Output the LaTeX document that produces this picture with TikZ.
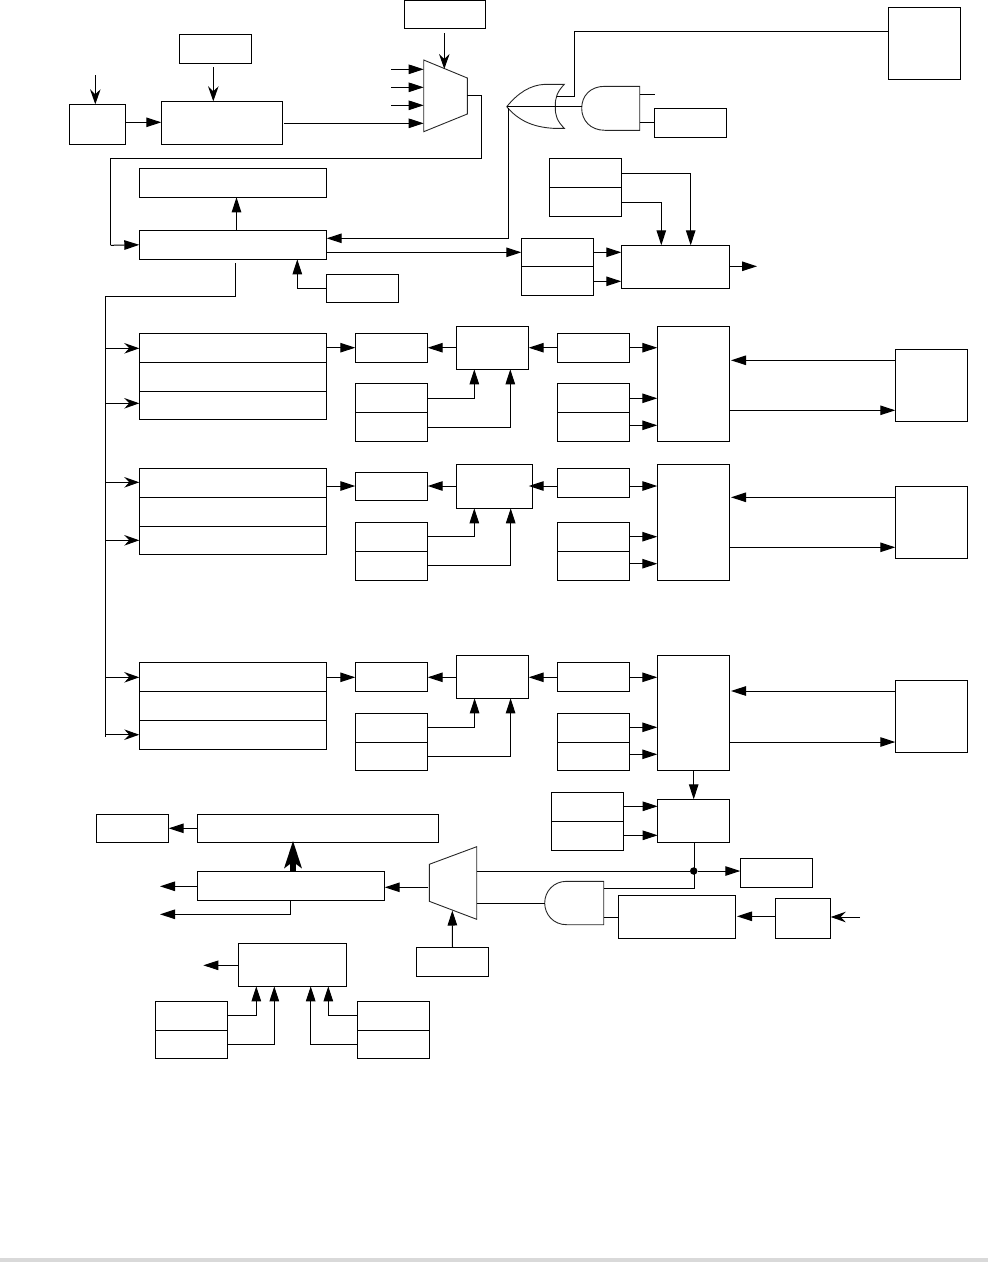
\documentclass[tikz,border=0pt]{standalone}
\usetikzlibrary{arrows.meta}
\tikzset{
  box/.style={draw=black,line width=1pt,inner sep=0pt,outer sep=0pt,anchor=north west},
  wire/.style={draw=black,line width=1pt},
  tri/.style={wire,-{Triangle[length=15pt,width=9.5pt]}},
  barb/.style={wire,-{Stealth[length=15pt,width=10.5pt,inset=5pt]}},
  fat/.style={draw=black,line width=6pt,-{Stealth[length=27pt,width=17pt,inset=6pt]}},
  gate/.style={draw=black!85,line width=0.9pt},
  junction/.style={circle,fill=black,inner sep=0pt,minimum size=7.5pt}
}
\newcommand{\bx}[5]{%
  \pgfmathsetmacro\bxw{#4-(#2)}\pgfmathsetmacro\bxh{#5-(#3)}%
  \node[box,minimum width=\bxw pt,minimum height=\bxh pt] (#1) at (#2,#3) {};}
\begin{document}
\begin{tikzpicture}[x=1pt,y=-1pt]
\useasboundingbox (0,0) rectangle (988,1262);
\fill[fill=black!15] (0,1258) rectangle (988,1262);

% ---------- top section
\bx{a}{69.3}{104.3}{125.7}{144.3}
\bx{b}{161.3}{101.3}{282.7}{144.3}
\bx{c}{179.3}{34.3}{251.7}{63.5}
\bx{top}{404.3}{0.5}{485.7}{28.3}
\bx{farbox}{888}{7}{960}{79}
\bx{d}{139.3}{168.3}{326.7}{197.3}
\bx{e}{139.3}{230.3}{326.7}{259.3}
\bx{esm}{326.3}{274.3}{398.7}{302.3}
\bx{andbox}{654.3}{108.3}{726.7}{137.3}
\bx{dt1}{549.3}{158.3}{621.3}{187.3}
\bx{dt2}{549.3}{187.3}{621.3}{216.3}
\bx{dm1}{521.3}{238.3}{593.3}{266.3}
\bx{dm2}{521.3}{266.3}{593.3}{295.3}
\bx{f}{621.3}{245.3}{729.3}{288.3}

% mux 1
\draw[gate] (423.7,60) -- (467.3,78) -- (467.3,114) -- (423.7,131.7) -- cycle;
\coordinate (mi1) at (423.7,69.3);
\coordinate (mi2) at (423.7,87.3);
\coordinate (mi3) at (423.7,105.3);
\coordinate (mi4) at (423.7,123.3);
\coordinate (mtop) at (444.3,69);
\coordinate (mout) at (467.3,95.3);
\coordinate (ms1) at (391,69.3);
\coordinate (ms2) at (391,87.3);
\coordinate (ms3) at (391,105.3);
\coordinate (mc1) at (481.3,158.3);
\coordinate (mc2) at (110.7,158.3);
\coordinate (fa) at (95.3,75);
\coordinate (fbend) at (481.3,95.3);

% OR gate
\draw[gate] (506.7,106.7) .. controls (518,93) and (530,85) .. (545,84.3) -- (564.3,84.3)
  .. controls (557,92) and (555,98) .. (555.3,106.7)
  .. controls (555,115) and (557,121) .. (564.3,128.3) -- (553,128.3)
  .. controls (532,127) and (518,120) .. (506.7,106.7);
% AND gate 1
\draw[gate] (605,86.3) -- (639.7,86.3) -- (639.7,130.3) -- (605,130.3)
  .. controls (590,130.3) and (581.7,120) .. (581.7,108.3)
  .. controls (581.7,96) and (590,86.3) .. (605,86.3);
\coordinate (ortip) at (506.7,106.7);
\coordinate (andin) at (581.7,106.7);
\coordinate (orin) at (556.7,96.3);
\coordinate (orup) at (574.3,96.3);
\coordinate (andoa) at (639.7,94.3);
\coordinate (andob) at (655,94.3);
\coordinate (andoc) at (639.7,122.3);
\coordinate (orw) at (508.3,108);

\draw[barb] (fa) -- (95.3,0 |- a.north);
\draw[tri] (a.east |- 0,122.3) -- (b.west |- 0,122.3);
\draw[barb] (213.3,67) -- (213.3,0 |- b.north);
\draw[barb] (444.3,33) -- (mtop);
\draw[tri] (284,123.3) -- (mi4);
\draw[tri] (ms1) -- (mi1);
\draw[tri] (ms2) -- (mi2);
\draw[tri] (ms3) -- (mi3);
\draw[wire] (mout) -- (fbend) -- (mc1) -- (mc2) -- (110.7,245.3);
\draw[tri] (110.7,245.3) -- (e.west);
\draw[tri] (236.5,0 |- e.north) -- (236.5,0 |- d.south);
\draw[wire] (ortip) -- (andin);
\draw[wire] (orin) -- (orup) -- (574.3,31.3) -- (farbox.west |- 0,31.3);
\draw[wire] (andoa) -- (andob);
\draw[wire] (andoc) -- (andbox.west |- andoc);
\draw[tri] (orw) |- (e.east |- 0,238.3);
\draw[tri] (e.east |- 0,252.3) -- (dm1.west |- 0,252.3);
\draw[tri] (esm.west |- 0,288.3) -| (297.3,0 |- e.south);
\draw[tri] (dt1.east |- 0,173.3) -| (690.7,0 |- f.north);
\draw[tri] (dt2.east |- 0,202.3) -| (661.3,0 |- f.north);
\draw[tri] (dm1.east |- 0,252.3) -- (f.west |- 0,252.3);
\draw[tri] (dm2.east |- 0,281.3) -- (f.west |- 0,281.3);
\coordinate (fout) at (757,266.3);
\draw[tri] (f.east |- fout) -- (fout);

% bus
\coordinate (bus0) at (235.3,263);
\coordinate (bus1) at (235.3,296.3);
\coordinate (bus2) at (105.3,296.3);
\coordinate (bus3) at (105.3,737);
\draw[wire] (bus0) -- (bus1) -- (bus2) -- (bus3);

% ---------- channel 1
\bx{ta1}{139.3}{333.3}{326.7}{362.3}
\bx{tb1}{139.3}{362.3}{326.7}{391.3}
\bx{tc1}{139.3}{391.3}{326.7}{419.3}
\bx{g1}{355.3}{333.3}{427.7}{362.3}
\bx{la1}{355.3}{383.3}{427.7}{412.3}
\bx{lb1}{355.3}{412.3}{427.7}{441.3}
\bx{h1}{456.3}{326.3}{528.7}{369.3}
\bx{i1}{557.3}{333.3}{629.7}{362.3}
\bx{ra1}{557.3}{383.3}{629.7}{412.3}
\bx{rb1}{557.3}{412.3}{629.7}{441.3}
\bx{j1}{657.3}{326.3}{729.7}{441.3}
\bx{k1}{895.3}{349.3}{967.7}{421.3}
\draw[barb] (bus2 |- 0,348.3) -- (ta1.west |- 0,348.3);
\draw[barb] (bus2 |- 0,403.3) -- (tc1.west |- 0,403.3);
\draw[tri] (ta1.east |- 0,347.7) -- (g1.west |- 0,347.7);
\draw[tri] (h1.west |- 0,347.7) -- (g1.east |- 0,347.7);
\draw[tri] (i1.west |- 0,347.7) -- (h1.east |- 0,347.7);
\draw[tri] (la1.east |- 0,398.3) -| (474.3,0 |- h1.south);
\draw[tri] (lb1.east |- 0,427.3) -| (510.3,0 |- h1.south);
\draw[tri] (i1.east |- 0,347.7) -- (j1.west |- 0,347.7);
\draw[tri] (ra1.east |- 0,398.3) -- (j1.west |- 0,398.3);
\draw[tri] (rb1.east |- 0,425.3) -- (j1.west |- 0,425.3);
\draw[tri] (k1.west |- 0,360.3) -- (731,360.3);
\draw[tri] (j1.east |- 0,410.3) -- (k1.west |- 0,410.3);

% ---------- channel 2
\bx{ta2}{139.3}{468.3}{326.7}{497.3}
\bx{tb2}{139.3}{497.3}{326.7}{526.3}
\bx{tc2}{139.3}{526.3}{326.7}{554.3}
\bx{g2}{355.3}{472.3}{427.7}{500.3}
\bx{la2}{355.3}{522.3}{427.7}{551.3}
\bx{lb2}{355.3}{551.3}{427.7}{580.3}
\bx{h2}{456.3}{464.3}{532.7}{508.3}
\bx{i2}{557.3}{468.3}{629.7}{497.3}
\bx{ra2}{557.3}{522.3}{629.7}{551.3}
\bx{rb2}{557.3}{551.3}{629.7}{580.3}
\bx{j2}{657.3}{464.3}{729.7}{580.3}
\bx{k2}{895.3}{486.3}{967.7}{558.3}
\draw[barb] (bus2 |- 0,482.3) -- (ta2.west |- 0,482.3);
\draw[barb] (bus2 |- 0,540.3) -- (tc2.west |- 0,540.3);
\draw[tri] (ta2.east |- 0,486) -- (g2.west |- 0,486);
\draw[tri] (h2.west |- 0,486) -- (g2.east |- 0,486);
\draw[tri] (i2.west |- 0,486) -- (528.7,486);
\draw[tri] (la2.east |- 0,536.3) -| (474.3,0 |- h2.south);
\draw[tri] (lb2.east |- 0,565.3) -| (510.7,0 |- h2.south);
\draw[tri] (i2.east |- 0,486) -- (j2.west |- 0,486);
\draw[tri] (ra2.east |- 0,536.7) -- (j2.west |- 0,536.7);
\draw[tri] (rb2.east |- 0,563.7) -- (j2.west |- 0,563.7);
\draw[tri] (k2.west |- 0,497.3) -- (731,497.3);
\draw[tri] (j2.east |- 0,547.3) -- (k2.west |- 0,547.3);

% ---------- channel 3
\bx{ta3}{139.3}{662.3}{326.7}{691.3}
\bx{tb3}{139.3}{691.3}{326.7}{720.3}
\bx{tc3}{139.3}{720.3}{326.7}{749.3}
\bx{g3}{355.3}{662.3}{427.7}{691.3}
\bx{la3}{355.3}{713.3}{427.7}{742.3}
\bx{lb3}{355.3}{742.3}{427.7}{770.7}
\bx{h3}{456.3}{655.3}{528.7}{698.3}
\bx{i3}{557.3}{662.3}{629.7}{691.3}
\bx{ra3}{557.3}{713.3}{629.7}{742.3}
\bx{rb3}{557.3}{742.3}{629.7}{770.7}
\bx{j3}{657.3}{655.3}{729.7}{770.7}
\bx{k3}{895.3}{680.3}{967.7}{752.3}
\draw[barb] (bus2 |- 0,677.3) -- (ta3.west |- 0,677.3);
\draw[barb] (bus2 |- 0,734.7) -- (tc3.west |- 0,734.7);
\draw[tri] (ta3.east |- 0,677.3) -- (g3.west |- 0,677.3);
\draw[tri] (h3.west |- 0,677.3) -- (g3.east |- 0,677.3);
\draw[tri] (i3.west |- 0,677.3) -- (h3.east |- 0,677.3);
\draw[tri] (la3.east |- 0,727.3) -| (474.6,0 |- h3.south);
\draw[tri] (lb3.east |- 0,756.3) -| (510.6,0 |- h3.south);
\draw[tri] (i3.east |- 0,677.3) -- (j3.west |- 0,677.3);
\draw[tri] (ra3.east |- 0,727.3) -- (j3.west |- 0,727.3);
\draw[tri] (rb3.east |- 0,754.3) -- (j3.west |- 0,754.3);
\draw[tri] (k3.west |- 0,691) -- (731,691);
\draw[tri] (j3.east |- 0,742) -- (k3.west |- 0,742);

% ---------- bottom section
\bx{l}{657.7}{799.3}{729.7}{842.3}
\bx{ba}{551.3}{792.3}{623.7}{821.3}
\bx{bb}{551.3}{821.3}{623.7}{850.3}
\bx{sta}{740.3}{858.3}{812.7}{887.3}
\bx{nb}{618.3}{895.3}{735.7}{938.3}
\bx{xt}{775.3}{898.3}{830.7}{938.3}
\bx{msel}{416.3}{947.3}{488.7}{976.3}
\bx{bl}{96.3}{814.3}{168.7}{842.3}
\bx{wide}{197.3}{814.3}{438.7}{842.3}
\bx{mid}{197.3}{871.3}{384.7}{900.3}
\bx{cc}{238.3}{943.3}{346.7}{986.3}
\bx{pa}{155.3}{1001.3}{227.7}{1030.3}
\bx{pb}{155.3}{1030.3}{227.7}{1058.3}
\bx{qa}{357.3}{1001.3}{429.7}{1030.3}
\bx{qb}{357.3}{1030.3}{429.7}{1058.3}

% mux 2
\draw[gate] (429.3,864.3) -- (476.7,846.7) -- (476.7,919.3) -- (429.3,901.3) -- cycle;
\coordinate (m2a) at (476.7,871);
\coordinate (m2b) at (476.7,903.3);
\coordinate (m2in) at (428.3,887.3);
\coordinate (m2s) at (452.3,910.5);
% AND gate 2
\draw[gate] (566.7,881.3) -- (603.7,881.3) -- (603.7,924.7) -- (566.7,924.7)
  .. controls (553,924.7) and (544.7,914) .. (544.7,903)
  .. controls (544.7,892) and (553,881.3) .. (566.7,881.3);
\coordinate (a2in) at (544.7,903.3);
\coordinate (a2t) at (603.7,888.3);
\coordinate (a2b) at (603.7,917);
\node[junction] (dot) at (693.7,871) {};
\coordinate (xin) at (860,917);
\coordinate (wa) at (160,886.3);
\coordinate (wb) at (160,914.3);
\coordinate (wc) at (203.3,965.3);

\draw[tri] (693.7,0 |- j3.south) -- (693.7,0 |- l.north);
\draw[tri] (ba.east |- 0,806.3) -- (l.west |- 0,806.3);
\draw[tri] (bb.east |- 0,835.3) -- (l.west |- 0,835.3);
\draw[wire] (694.7,0 |- l.south) -- (694.7,888.3) -- (a2t);
\draw[wire] (m2a) -- (dot);
\draw[tri] (dot) -- (sta.west |- dot);
\draw[wire] (m2b) -- (a2in);
\draw[wire] (a2b) -- (nb.west |- a2b);
\draw[tri] (xt.west |- 0,916.3) -- (737,916.3);
\draw[barb] (xin) -- (xt.east |- xin);
\draw[tri] (m2in) -- (mid.east |- m2in);
\draw[tri] (msel.north) -- (m2s);
\draw[tri] (wide.west |- 0,828.3) -- (bl.east |- 0,828.3);
\draw[fat] (293,0 |- mid.north) -- (293,840.7);
\draw[tri] (mid.west |- wa) -- (wa);
\draw[tri] (290.3,0 |- mid.south) |- (wb);
\draw[tri] (cc.west |- wc) -- (wc);
\draw[tri] (pa.east |- 0,1015.3) -| (256.3,0 |- cc.south);
\draw[tri] (pb.east |- 0,1044.3) -| (274.3,0 |- cc.south);
\draw[tri] (qa.west |- 0,1015.3) -| (328.3,0 |- cc.south);
\draw[tri] (qb.west |- 0,1044.3) -| (310.7,0 |- cc.south);
\end{tikzpicture}
\end{document}
